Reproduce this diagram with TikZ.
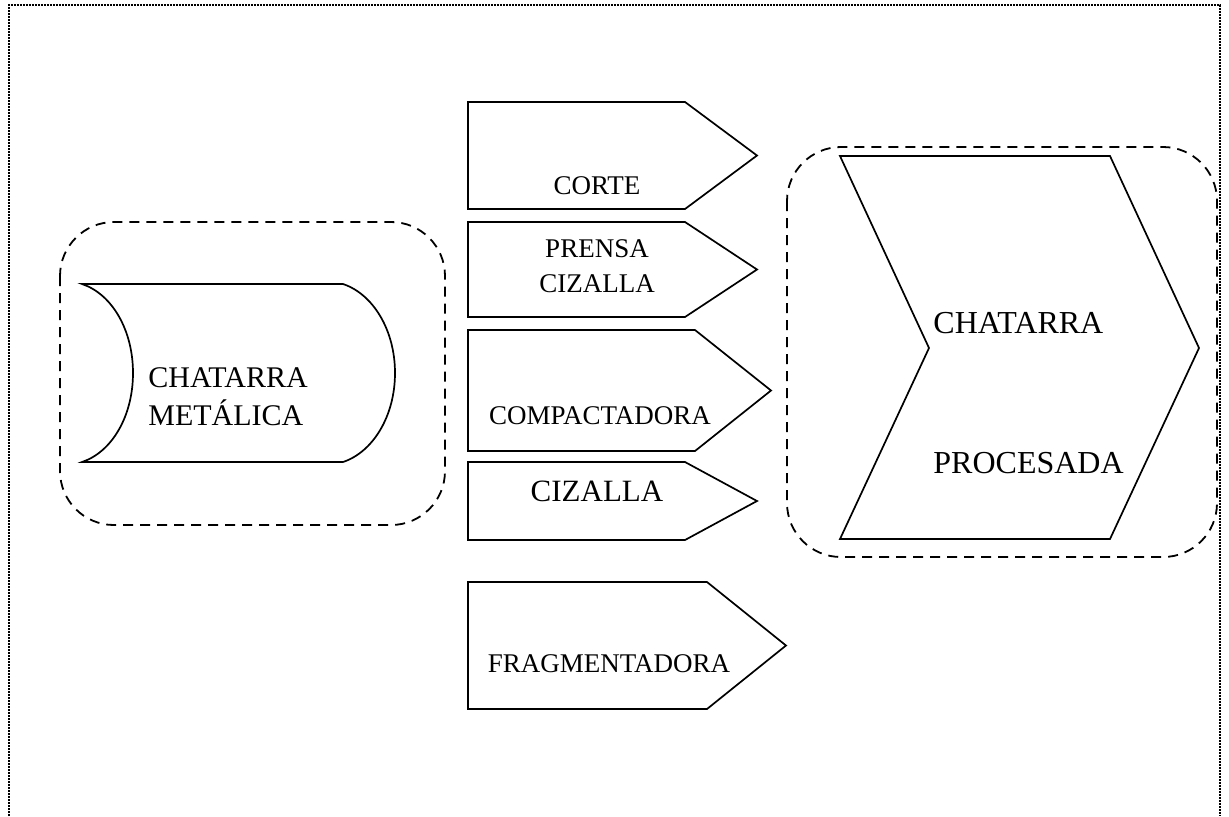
\documentclass[tikz,border=0pt]{standalone}
\usepackage{fontspec}
\setmainfont{Liberation Serif}

\begin{document}
\begin{tikzpicture}[x=0.5pt, y=-0.5pt,
    frame/.style={dash pattern=on 0.8pt off 0.7pt, line width=0.8pt},
    group/.style={dash pattern=on 5pt off 3.5pt, line width=0.9pt, rounded corners=27pt},
    shp/.style={line width=0.85pt, line join=miter},
    lbl/.style={inner sep=0pt, font=\fontsize{13.5}{17.5}\selectfont},
    biglbl/.style={inner sep=0pt, font=\fontsize{15.5}{19}\selectfont},
    hugelbl/.style={inner sep=0pt, font=\fontsize{16}{19}\selectfont}]
    \useasboundingbox (0,0) rectangle (1229,816);
    % page frame, open at the bottom
    \draw[frame] (9,816) -- (9,5) -- (1220,5) -- (1220,816);

    % input: stored scrap
    \draw[group] (60,222) rectangle (445,525);
    \coordinate (in-nw) at (82,284);
    \coordinate (in-sw) at (82,462);
    \coordinate (in-ne) at (343,284);
    \coordinate (in-se) at (343,462);
    \draw[shp] (in-nw) .. controls (112,294) and (133,330) .. (133,373)
                       .. controls (133,416) and (112,452) .. (in-sw)
               -- (in-se) .. controls (373,452) and (395,416) .. (395,373)
                          .. controls (395,330) and (373,294) .. (in-ne) -- cycle;
    \node[inner sep=0pt, align=left, anchor=base west,
          font=\fontsize{15}{19}\selectfont] (in) at (148,425) {CHATARRA\\METÁLICA};

    % processes
    \foreach \ya/\yb/\xs/\xt [count=\i] in {102/209/685/757, 222/317/685/757,
        330/451/695/771, 462/540/685/757, 582/709/707/786}{
      \draw[shp] (468,\ya) -- (\xs,\ya) -- (\xt,{(\ya+\yb)/2}) coordinate (p\i-tip)
                 -- (\xs,\yb) -- (468,\yb) -- cycle;
    }
    \node[lbl, anchor=base] (p1) at (597,194) {CORTE};
    \node[lbl, anchor=base, align=center] (p2) at (597,292) {PRENSA\\CIZALLA};
    \node[lbl, anchor=base] (p3) at (600,424) {COMPACTADORA};
    \node[biglbl, anchor=base] (p4) at (597,501) {CIZALLA};
    \node[lbl, anchor=base] (p5) at (609,672) {FRAGMENTADORA};

    % output: processed scrap
    \draw[group] (787,147) rectangle (1217,557);
    \draw[shp] (840,156) coordinate (out-nw) -- (1110,156) -- (1199,348) coordinate (out-tip)
               -- (1110,539) -- (840,539) coordinate (out-sw) -- (929,348) -- cycle;
    \node[hugelbl, anchor=base west] (out1) at (933,333) {CHATARRA};
    \node[hugelbl, anchor=base west] (out2) at (933,473) {PROCESADA};
\end{tikzpicture}
\end{document}
